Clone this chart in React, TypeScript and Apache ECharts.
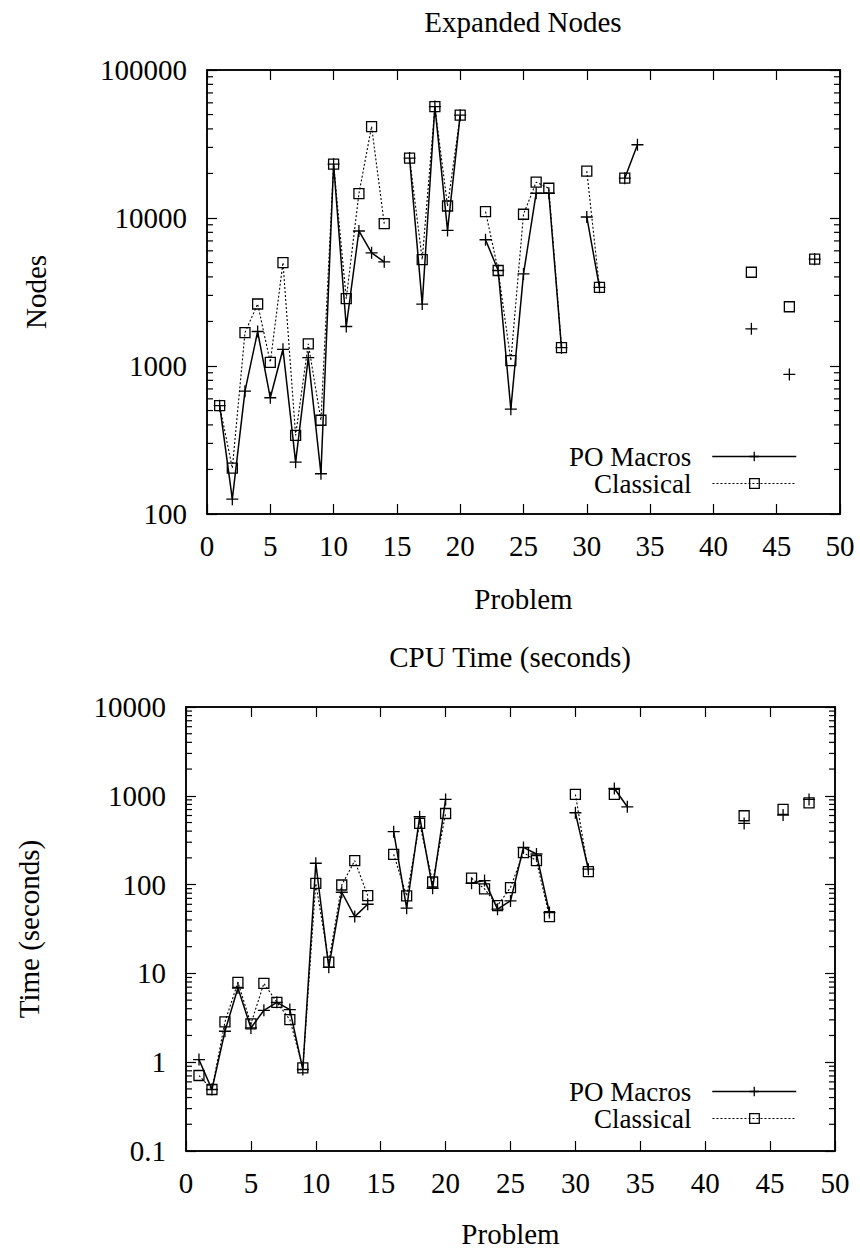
import React, { useEffect, useRef } from "react";
import * as echarts from "echarts";

// Problem numbers 1..48 (index i -> problem i+1); null = no result
const nodesPO: (number | null)[] = [
  539, 126, 676, 1710, 610, 1297, 224, 1140, 187, 23100,
  1849, 8170, 5820, 5060, null, 25400, 2620, 56600, 8240, 49500,
  null, 7130, 4420, 511, 4190, 14700, 14700, 1330, null, 10160,
  3400, null, 18580, 31260, null, null, null, null, null, null,
  null, null, 1783, null, null, 877, null, 5270,
];
const nodesClassical: (number | null)[] = [
  539, 204, 1683, 2624, 1059, 5000, 340, 1410, 430, 23100,
  2850, 14600, 41500, 9170, null, 25400, 5240, 56600, 12050, 49500,
  null, 11040, 4420, 1086, 10600, 17460, 15880, 1330, null, 20750,
  3400, null, 18580, null, null, null, null, null, null, null,
  null, null, 4300, null, null, 2513, null, 5270,
];
const timePO: (number | null)[] = [
  1.07, 0.493, 2.23, 6.84, 2.43, 3.84, 4.72, 3.91, 0.828, 174,
  11.7, 82, 43.6, 60.1, null, 394, 54.2, 581, 91, 910,
  null, 103.5, 111, 52.9, 65.5, 262, 221, 48.4, null, 644,
  149, null, 1209, 752, null, null, null, null, null, null,
  null, null, 489, null, null, 607, null, 910,
];
const timeClassical: (number | null)[] = [
  0.708, 0.493, 2.84, 7.93, 2.7, 7.72, 4.72, 3.01, 0.863, 103,
  13.4, 99, 186, 75.2, null, 219, 74.6, 489, 107, 632,
  null, 118, 89.4, 58.1, 92.5, 229, 186, 43.6, null, 1035,
  140, null, 1035, null, null, null, null, null, null, null,
  null, null, 596, null, null, 702, null, 834,
];

const nodeTicks = [100, 1000, 10000, 100000];
const timeTicks = [0.1, 1, 10, 100, 1000, 10000];
const problemTicks = [0, 5, 10, 15, 20, 25, 30, 35, 40, 45, 50];

const FONT = "'Liberation Serif', 'Times New Roman', serif";
const FS = 29;
const LFS = 27;
const PLUS = "path://M5,0 L5,10 M0,5 L10,5";
const SQUARE = "path://M0,0 L10,0 L10,10 L0,10 Z";

const toData = (arr: (number | null)[]) =>
  arr.map((v, i) => [i + 1, v == null ? "-" : v]);

// minor log ticks (2..9 within each decade), at a given x (axis edge)
const minorValues = (ticks: number[], x: number) => {
  const out: number[][] = [];
  for (let d = 0; d < ticks.length - 1; d++) {
    for (let k = 2; k <= 9; k++) out.push([x, +(ticks[d] * k).toPrecision(6)]);
  }
  return out;
};

const fmt = (v: number) => String(parseFloat(Number(v).toPrecision(6)));

export default function App() {
  const ref = useRef<HTMLDivElement>(null);
  useEffect(() => {
    if (!ref.current) return;
    const chart = echarts.init(ref.current, null, { renderer: "svg" });
    const xmin = problemTicks[0];
    const xmax = problemTicks[problemTicks.length - 1];

    const grids = [
      { left: 207, top: 70, width: 633, height: 444 },
      { left: 186, top: 707, width: 649, height: 445 },
    ];

    const mkX = (gi: number, pos: "bottom" | "top", name?: string, gap?: number) => ({
      type: "value",
      gridIndex: gi,
      position: pos,
      min: xmin,
      max: xmax,
      interval: 5,
      name: name,
      nameLocation: "middle",
      nameGap: gap,
      nameTextStyle: { fontFamily: FONT, fontSize: FS, color: "#000" },
      axisLine: { show: true, onZero: false, lineStyle: { color: "#000", width: 1.5 } },
      axisTick: { show: true, inside: true, length: 10, lineStyle: { color: "#000", width: 1.2 } },
      axisLabel: {
        show: pos === "bottom",
        margin: 17,
        fontFamily: FONT,
        fontSize: FS,
        color: "#000",
      },
      splitLine: { show: false },
    });

    const mkY = (gi: number, pos: "left" | "right", ticks: number[], name?: string, gap?: number) => ({
      type: "log",
      logBase: 10,
      gridIndex: gi,
      position: pos,
      min: ticks[0],
      max: ticks[ticks.length - 1],
      name: name,
      nameLocation: "middle",
      nameGap: gap,
      nameTextStyle: { fontFamily: FONT, fontSize: FS, color: "#000" },
      axisLine: { show: true, onZero: false, lineStyle: { color: "#000", width: 1.5 } },
      axisTick: { show: true, inside: true, length: 10, lineStyle: { color: "#000", width: 1.2 } },
      axisLabel: {
        show: pos === "left",
        margin: 20,
        fontFamily: FONT,
        fontSize: FS,
        color: "#000",
        formatter: (v: number) => fmt(v),
      },
      splitLine: { show: false },
    });

    const lineSeries = (
      name: string,
      data: (number | null)[],
      xi: number,
      yi: number,
      classical: boolean
    ) => ({
      type: "line",
      name,
      xAxisIndex: xi,
      yAxisIndex: yi,
      data: toData(data),
      connectNulls: false,
      symbol: classical ? SQUARE : PLUS,
      symbolSize: classical ? 10 : 12,
      showSymbol: true,
      lineStyle: classical
        ? { color: "#000", width: 1.1, type: [2, 2] }
        : { color: "#000", width: 1.5, type: "solid" },
      itemStyle: { color: "transparent", borderColor: "#000", borderWidth: 1.3 },
      z: classical ? 3 : 2,
    });

    const minorSeries = (ticks: number[], xi: number, yi: number, x: number, dir: number) => ({
      type: "scatter",
      name: "minor" + xi + "_" + dir,
      xAxisIndex: xi,
      yAxisIndex: yi,
      silent: true,
      clip: false,
      z: 5,
      symbol: "rect",
      symbolSize: [6, 1.2],
      symbolOffset: [3 * dir, 0],
      itemStyle: { color: "#000", opacity: 1 },
      data: minorValues(ticks, x),
    });

    const mkLegend = (name: string, top: number, classical: boolean) => ({
      data: [name],
      orient: "horizontal",
      align: "right",
      right: 63,
      top,
      padding: 0,
      itemWidth: 84,
      itemHeight: 12,
      selectedMode: false,
      textStyle: {
        fontFamily: FONT,
        fontSize: LFS,
        lineHeight: LFS,
        color: "#000",
        padding: [0, 16, 0, 0],
      },
      itemStyle: { color: "transparent", borderColor: "#000", borderWidth: 1.3 },
      lineStyle: classical
        ? { color: "#000", width: 1.1, type: [2, 2] }
        : { color: "#000", width: 1.5, type: "solid" },
    });

    chart.setOption({
      animation: false,
      backgroundColor: "#fff",
      title: [
        {
          text: "Expanded Nodes",
          left: 523,
          textAlign: "center",
          top: 7,
          padding: 0,
          textStyle: { fontFamily: FONT, fontSize: FS, fontWeight: "normal", color: "#000" },
        },
        {
          text: "CPU Time (seconds)",
          left: 510,
          textAlign: "center",
          top: 642,
          padding: 0,
          textStyle: { fontFamily: FONT, fontSize: FS, fontWeight: "normal", color: "#000" },
        },
      ],
      grid: grids.map((g) => ({
        ...g,
        show: true,
        borderColor: "#000",
        borderWidth: 1.5,
        backgroundColor: "transparent",
        containLabel: false,
      })),
      xAxis: [
        mkX(0, "bottom", "Problem", 70),
        mkX(0, "top"),
        mkX(1, "bottom", "Problem", 68),
        mkX(1, "top"),
      ],
      yAxis: [
        mkY(0, "left", nodeTicks, "Nodes", 157),
        mkY(0, "right", nodeTicks),
        mkY(1, "left", timeTicks, "Time (seconds)", 143),
        mkY(1, "right", timeTicks),
      ],
      legend: [
        mkLegend("PO Macros", 443, false),
        mkLegend("Classical", 470, true),
        mkLegend("PO Macros", 1078, false),
        mkLegend("Classical", 1105, true),
      ],
      series: [
        lineSeries("PO Macros", nodesPO, 0, 0, false),
        lineSeries("Classical", nodesClassical, 0, 0, true),
        lineSeries("PO Macros", timePO, 2, 2, false),
        lineSeries("Classical", timeClassical, 2, 2, true),
        minorSeries(nodeTicks, 0, 0, xmin, 1),
        minorSeries(nodeTicks, 0, 0, xmax, -1),
        minorSeries(timeTicks, 2, 2, xmin, 1),
        minorSeries(timeTicks, 2, 2, xmax, -1),
      ],
    });
    return () => chart.dispose();
  }, []);

  return (
    <div
      ref={ref}
      style={{ position: "absolute", left: 0, top: 0, width: 860, height: 1249, background: "#fff" }}
    />
  );
}
